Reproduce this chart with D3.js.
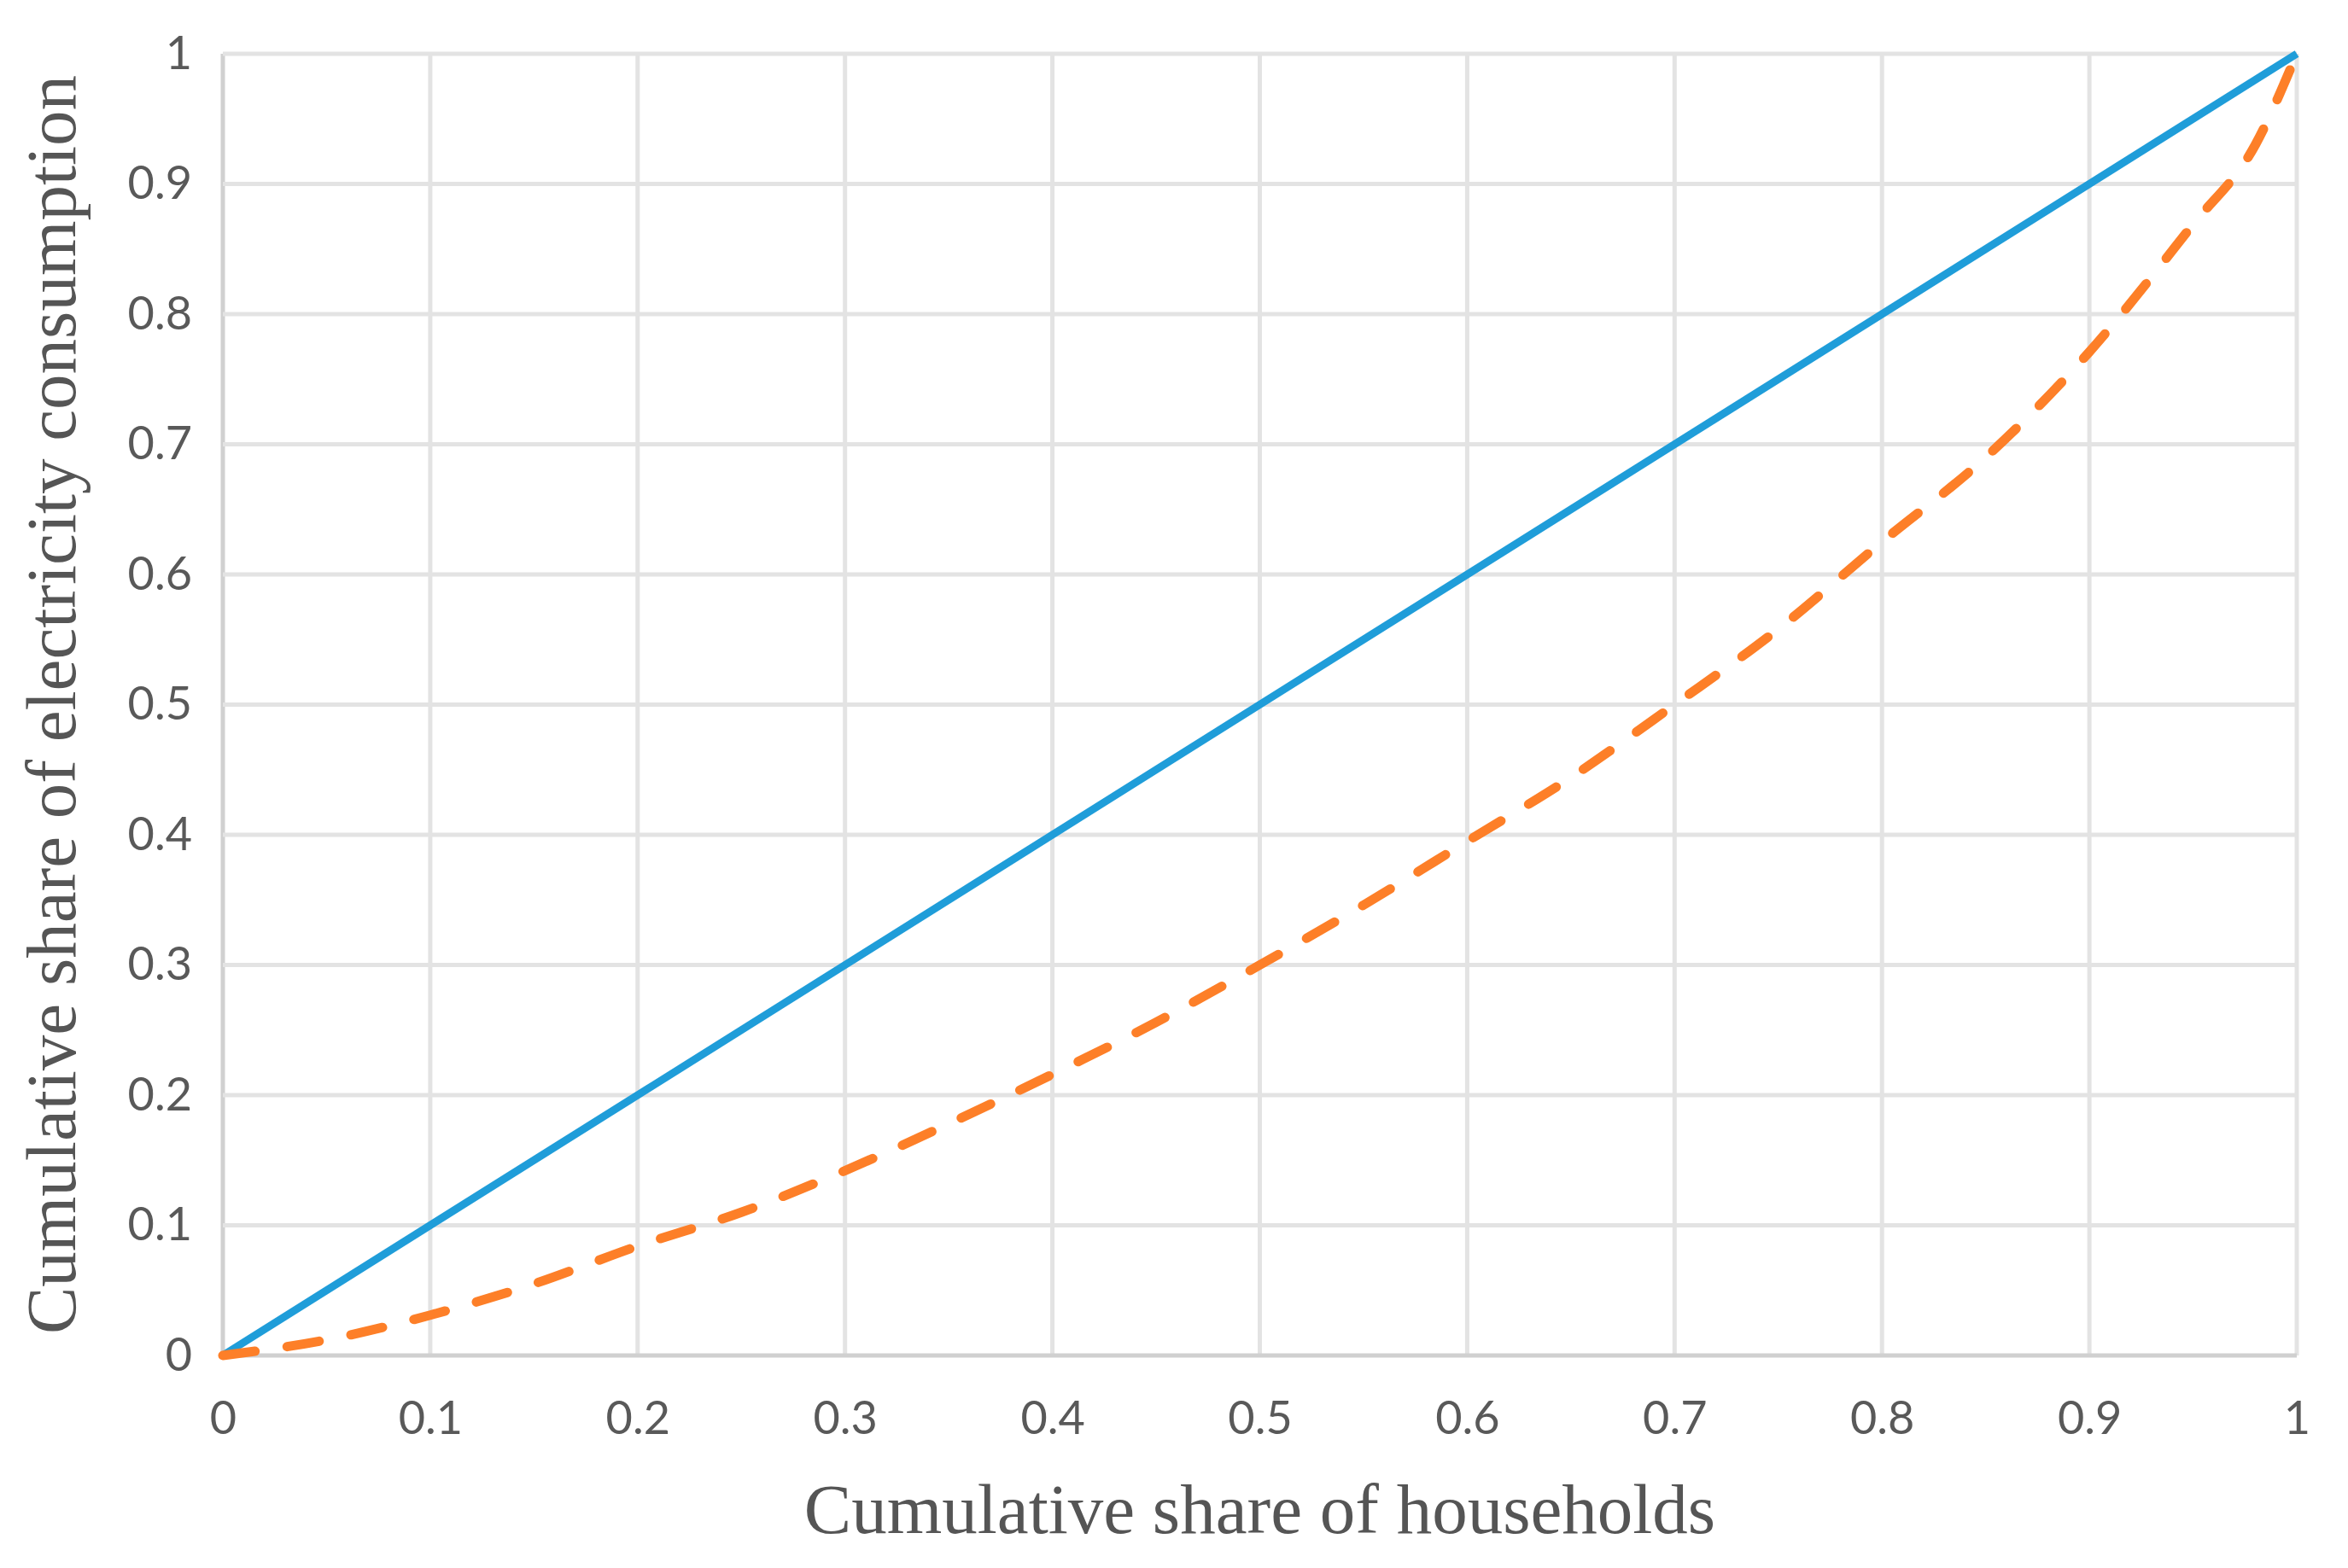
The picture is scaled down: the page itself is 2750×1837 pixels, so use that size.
<!DOCTYPE html>
<html>
<head>
<meta charset="utf-8">
<script src="https://cdn.jsdelivr.net/npm/d3@7"></script>
<style>
  body { margin: 0; background: #fff; }
</style>
</head>
<body>
<svg width="2750" height="1837"></svg>
<script>
// equality line and Lorenz curve
const equalityX = [0, 1];
const equalityY = [0, 1];

const lorenzX = [0, 0.05, 0.1, 0.15, 0.2, 0.25, 0.3, 0.35, 0.4, 0.45, 0.5, 0.55, 0.6, 0.65, 0.7, 0.75, 0.8, 0.85, 0.9, 0.95, 0.98, 1];
const lorenzY = [0, 0.012, 0.031, 0.055, 0.084, 0.11, 0.142, 0.178, 0.216, 0.256, 0.3, 0.346, 0.395, 0.444, 0.5, 0.558, 0.625, 0.69, 0.771, 0.869, 0.93, 1];

const xTicks = [0, 0.1, 0.2, 0.3, 0.4, 0.5, 0.6, 0.7, 0.8, 0.9, 1];
const yTicks = [0, 0.1, 0.2, 0.3, 0.4, 0.5, 0.6, 0.7, 0.8, 0.9, 1];

const svg = d3.select("svg"),
  width = +svg.attr("width"),
  height = +svg.attr("height");

const margin = { top: 63, right: 60, bottom: 249, left: 261 };

const x = d3.scaleLinear()
  .domain([0, 1])
  .range([margin.left, width - margin.right]);

const y = d3.scaleLinear()
  .domain([0, 1])
  .range([height - margin.bottom, margin.top]);

const tickFont = "Lato, 'Open Sans', sans-serif";
const titleFont = "'Liberation Serif', 'Times New Roman', serif";

// grid
const grid = svg.append("g").attr("class", "grid");

grid.selectAll("line.v")
  .data(xTicks)
  .enter().append("line")
  .attr("class", "v")
  .attr("x1", d => x(d)).attr("x2", d => x(d))
  .attr("y1", y(1)).attr("y2", y(0))
  .attr("stroke", d => d === 0 ? "#d0d0d0" : "#e3e3e3")
  .attr("stroke-width", 5);

grid.selectAll("line.h")
  .data(yTicks)
  .enter().append("line")
  .attr("class", "h")
  .attr("x1", x(0)).attr("x2", x(1))
  .attr("y1", d => y(d)).attr("y2", d => y(d))
  .attr("stroke", d => d === 0 ? "#d0d0d0" : "#e3e3e3")
  .attr("stroke-width", 5);

// axes (labels only, Excel style)
const xAxis = svg.append("g")
  .attr("transform", `translate(0,${y(0)})`)
  .call(d3.axisBottom(x).tickValues(xTicks).tickSize(0).tickPadding(54).tickFormat(d3.format("")));
xAxis.select(".domain").remove();
xAxis.selectAll("text")
  .attr("font-family", tickFont)
  .attr("font-size", 54)
  .attr("fill", "#595959");

const yAxis = svg.append("g")
  .attr("transform", `translate(${x(0)},0)`)
  .call(d3.axisLeft(y).tickValues(yTicks).tickSize(0).tickPadding(36).tickFormat(d3.format("")));
yAxis.select(".domain").remove();
yAxis.selectAll("text")
  .attr("font-family", tickFont)
  .attr("font-size", 54)
  .attr("fill", "#595959");

// lines
const line = d3.line()
  .x(d => x(d[0]))
  .y(d => y(d[1]));

svg.append("path")
  .datum(equalityX.map((v, i) => [v, equalityY[i]]))
  .attr("fill", "none")
  .attr("stroke", "#1f9dd9")
  .attr("stroke-width", 9)
  .attr("d", line);

svg.append("path")
  .datum(lorenzX.map((v, i) => [v, lorenzY[i]]))
  .attr("fill", "none")
  .attr("stroke", "#fd7f28")
  .attr("stroke-width", 11)
  .attr("stroke-linecap", "round")
  .attr("stroke-dasharray", "38,38")
  .attr("d", line.curve(d3.curveMonotoneX));

// axis titles
svg.append("text")
  .attr("x", (x(0) + x(1)) / 2)
  .attr("y", 1796)
  .attr("text-anchor", "middle")
  .attr("font-family", titleFont)
  .attr("font-size", 83)
  .attr("fill", "#555")
  .text("Cumulative share of households");

svg.append("text")
  .attr("transform", `translate(88,${(y(0) + y(1)) / 2}) rotate(-90)`)
  .attr("text-anchor", "middle")
  .attr("font-family", titleFont)
  .attr("font-size", 83)
  .attr("fill", "#555")
  .text("Cumulative share of electricity consumption");
</script>
</body>
</html>
